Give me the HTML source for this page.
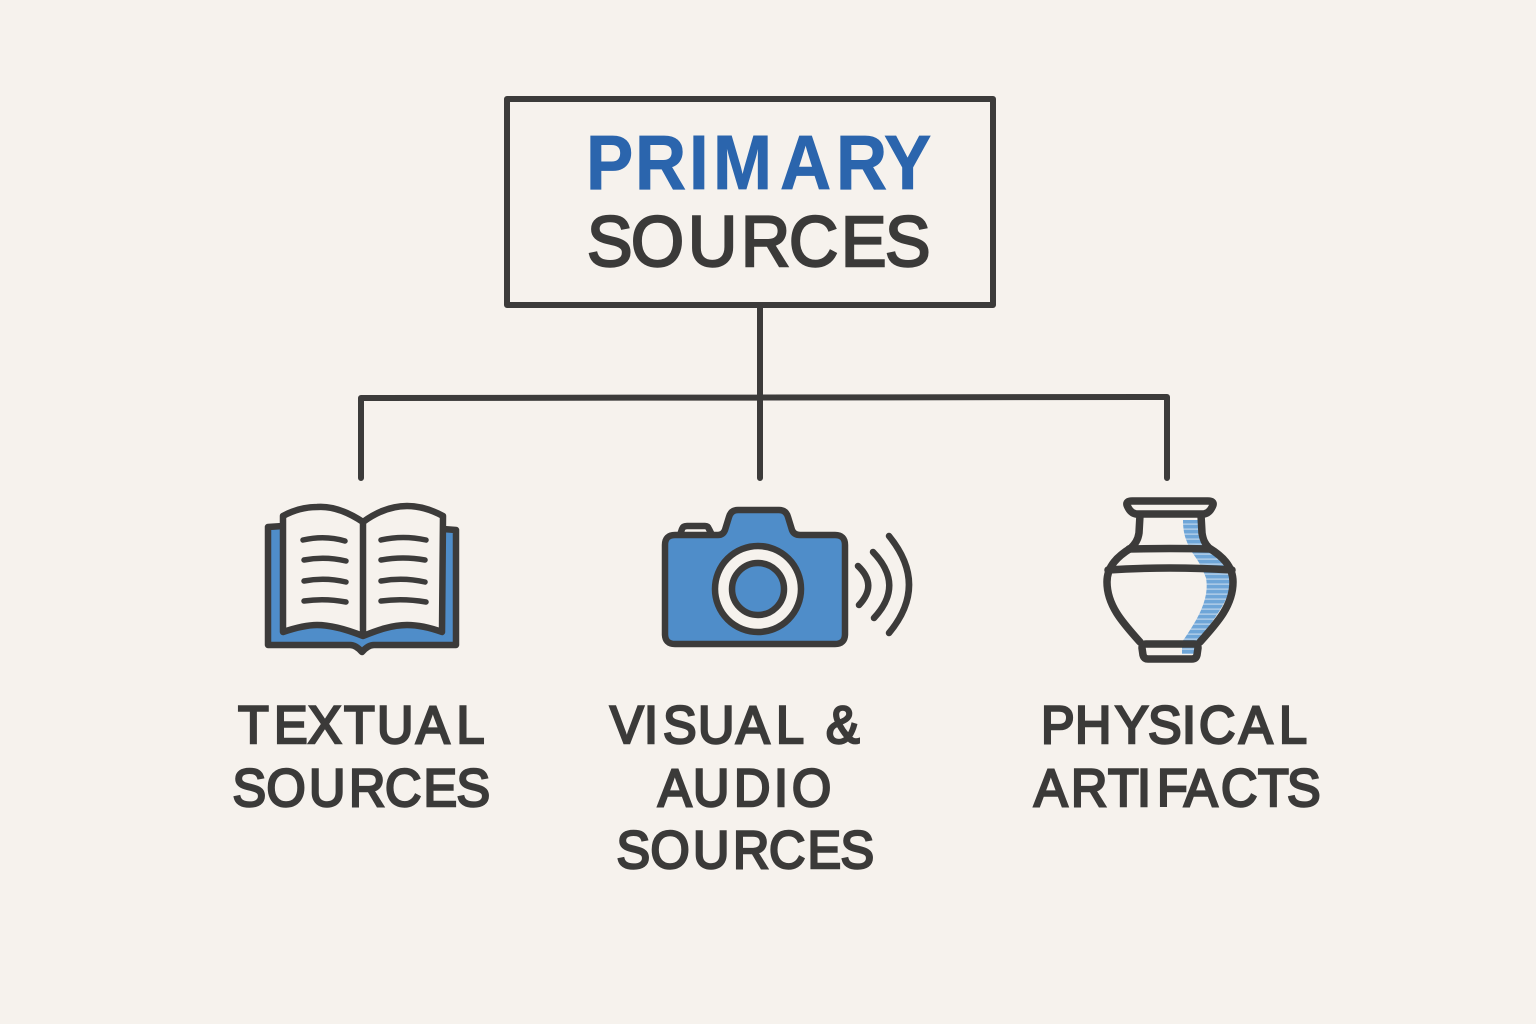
<!DOCTYPE html>
<html><head><meta charset="utf-8"><style>
html,body{margin:0;padding:0;background:#f6f2ed}
svg{display:block}
text{font-family:"Liberation Sans",sans-serif;fill:#3b3a39}
</style></head><body>
<svg width="1536" height="1024" viewBox="0 0 1536 1024" xmlns="http://www.w3.org/2000/svg">
<defs>
<pattern id="h" width="6" height="5" patternUnits="userSpaceOnUse"><rect width="6" height="5" fill="#6fa6d8"/><rect y="3.6" width="6" height="1" fill="#cfe0ef"/></pattern>
</defs>
<rect width="1536" height="1024" fill="#f6f2ed"/>
<g fill="none" stroke="#3c3b3a" stroke-width="6" stroke-linecap="round" stroke-linejoin="round">
<rect x="507" y="99" width="486" height="206"/>
<path d="M760 305V397M361 398L1167 397M361 398V478M760 397V478M1167 397V478"/>
</g>
<text transform="scale(.92 1)" y="189" font-size="77" font-weight="700" stroke="#2b65ad" stroke-width=".8" x="636.9 690.2 748.9 775 847.8 908.7 960.9" style="fill:#2b65ad">PRIMARY</text>
<text transform="scale(.96 1)" y="266" font-size="71" stroke="#3b3a39" stroke-width="2.5" x="611.5 657.3 716.7 771.9 821.9 876 921.9">SOURCES</text>

<!-- book -->
<g stroke="#3c3b3a" stroke-width="6.5" stroke-linejoin="round" stroke-linecap="round">
<path d="M283 526L268 527V645H350Q356 645 362 652Q368 645 374 645H456V530L443 529Z" fill="#4f8dc9"/>
<path d="M363 522C345 510 330 506 317 507C304 507 292 511 283 516V632C295 628 306 625 317 625C332 625 348 630 363 636C378 630 392 625 407 625C420 625 431 628 442 632L443 516C432 510 420 506 407 506C392 506 378 511 363 522V636" fill="#f6f2ed"/>
<g fill="none" stroke-width="5.5">
<path d="M303 540Q325 535 345 541M304 560Q325 556 346 561M304 581Q325 577 346 582M304 601Q325 598 346 602"/>
<path d="M381 540Q403 535 426 540M381 560Q403 556 425 560M381 581Q403 577 425 582M381 601Q403 598 426 602"/>
</g>
</g>

<!-- camera -->
<g stroke="#3c3b3a" stroke-width="6.5" stroke-linejoin="round" stroke-linecap="round">
<path d="M680 535L682 529Q683 526 687 526H705Q708 526 709 529L712 535" fill="#f6f2ed"/>
<path d="M675 535H718Q723 535 725 530L729 517Q731 510 738 510H779Q786 510 788 517L792 530Q794 535 800 535H835Q845 535 845 545V634Q845 644 835 644H675Q665 644 665 634V545Q665 535 675 535Z" fill="#4f8dc9"/>
<circle cx="758" cy="589" r="43" fill="#f6f2ed"/>
<circle cx="758" cy="589" r="26" fill="#4f8dc9"/>
<g fill="none">
<path d="M858 566Q878 585 859 605M873 552Q905 585 874 618M889 536Q929 585 889 633"/>
</g>
</g>

<!-- vase -->
<path d="M1183 520H1198L1200 533C1204 548 1224 556 1230 580C1232 600 1210 622 1199 642L1197 654H1182V642C1196 622 1210 600 1206 578C1198 556 1192 556 1187 542C1184 535 1183 528 1183 520Z" fill="url(#h)"/>
<g fill="none" stroke="#3c3b3a" stroke-width="7.5" stroke-linejoin="round" stroke-linecap="round">
<path d="M1132 501H1208Q1214 501 1213 505Q1210 513 1204 514H1136Q1130 513 1127 505Q1126 501 1132 501Z"/>
<path d="M1140 515L1139 533C1138 540 1135 544 1131 548C1118 556 1107 566 1107 582C1107 605 1122 622 1140 642M1201 515L1202 533C1203 540 1205 544 1209 548C1222 556 1233 566 1233 582C1233 605 1218 622 1200 642"/>
<path d="M1129 549Q1170 548 1210 549M1108 570Q1170 566 1232 570"/>
<path d="M1146 644H1194Q1198 644 1198 648L1197 655Q1196 659 1192 659H1148Q1144 659 1143 655L1142 648Q1142 644 1146 644Z"/>
</g>

<g font-size="53" stroke="#3b3a39" stroke-width="2.5">
<text transform="scale(.95 1)" y="743" x="250.5 288.4 324.2 362.1 396.8 437.9 480.5">TEXTUAL</text>
<text transform="scale(.95 1)" y="806" x="244.7 280.5 325.3 367.4 405.3 445.8 480.5">SOURCES</text>
<text transform="scale(.95 1)" y="743" x="642.1 677.9 697.9 734.7 774.7 816.8 850 869.5">VISUAL &amp;</text>
<text transform="scale(.95 1)" y="806" x="692.6 729.5 772.6 814.7 833.7">AUDIO</text>
<text transform="scale(.95 1)" y="868" x="648.9 684.7 729.5 771.6 809.5 850 884.7">SOURCES</text>
<text transform="scale(.95 1)" y="743" x="1095.8 1131.6 1173.7 1208.4 1244.2 1262.1 1304.2 1346.3">PHYSICAL</text>
<text transform="scale(.95 1)" y="806" x="1088.4 1127.4 1166.3 1196.8 1217.9 1246.3 1285.3 1324.2 1354.7">ARTIFACTS</text>
</g>
</svg>
</body></html>
